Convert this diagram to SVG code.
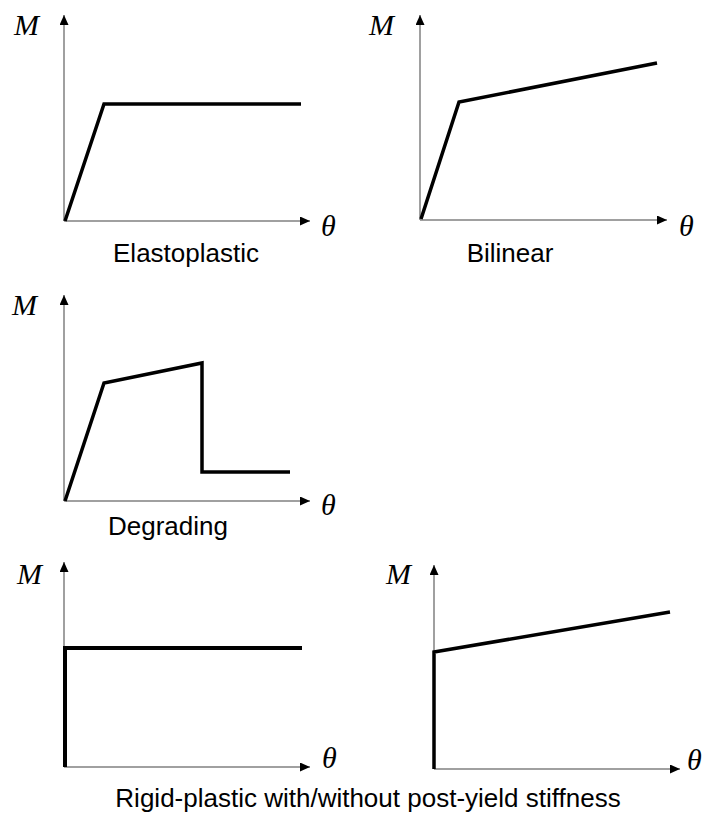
<svg xmlns="http://www.w3.org/2000/svg" width="709" height="816" viewBox="0 0 709 816">
<defs>
<marker id="ah" viewBox="0 0 10 9" refX="10" refY="4.5" markerWidth="10" markerHeight="9" markerUnits="userSpaceOnUse" orient="auto">
<path d="M0,0 L10,4.5 L0,9 Z" fill="#000"/>
</marker>
<style>
.ax{stroke:#808080;stroke-width:1.5;fill:none;marker-end:url(#ah)}
.cv{stroke:#000;stroke-width:3.5;fill:none;stroke-linejoin:miter}
.var{font-family:"Liberation Serif","Times New Roman",serif;font-style:italic;font-size:30px;fill:#000}
.lbl{font-family:"Liberation Sans",Arial,sans-serif;font-size:26px;fill:#000;text-anchor:middle}
</style>
</defs>
<rect width="709" height="816" fill="#fff"/>
<g id="elastoplastic">
<line class="ax" x1="64" y1="221" x2="64" y2="15"/>
<line class="ax" x1="64" y1="221" x2="310" y2="221"/>
<polyline class="cv" points="65,221 104,104 301,104"/>
<text class="var" x="14" y="35">M</text>
<text class="var" x="321" y="236">θ</text>
<text class="lbl" x="186" y="262">Elastoplastic</text>
</g>
<g id="bilinear">
<line class="ax" x1="420" y1="220" x2="420" y2="15"/>
<line class="ax" x1="420" y1="220" x2="667" y2="220"/>
<polyline class="cv" points="421,219 459,102 657,63"/>
<text class="var" x="369" y="35">M</text>
<text class="var" x="679" y="236">θ</text>
<text class="lbl" x="510" y="262">Bilinear</text>
</g>
<g id="degrading">
<line class="ax" x1="64" y1="501" x2="64" y2="295"/>
<line class="ax" x1="64" y1="501" x2="310" y2="501"/>
<polyline class="cv" points="65,501 104,383 202,363 202,472 290,472"/>
<text class="var" x="12" y="315">M</text>
<text class="var" x="321" y="515">θ</text>
<text class="lbl" x="168" y="535">Degrading</text>
</g>
<g id="rigid-plastic">
<line class="ax" x1="64" y1="767" x2="64" y2="562"/>
<line class="ax" x1="64" y1="767" x2="310" y2="767"/>
<polyline class="cv" points="65,767 65,648 302,648" style="stroke-width:4"/>
<text class="var" x="17" y="584">M</text>
<text class="var" x="322" y="768">θ</text>
</g>
<g id="rigid-plastic-hardening">
<line class="ax" x1="434" y1="769" x2="434" y2="565"/>
<line class="ax" x1="434" y1="769" x2="680" y2="769"/>
<polyline class="cv" points="434,769 434,652 670,612"/>
<text class="var" x="386" y="584">M</text>
<text class="var" x="687" y="770">θ</text>
</g>
<g id="caption">
<text class="lbl" x="368" y="807">Rigid-plastic with/without post-yield stiffness</text>
</g>
</svg>
